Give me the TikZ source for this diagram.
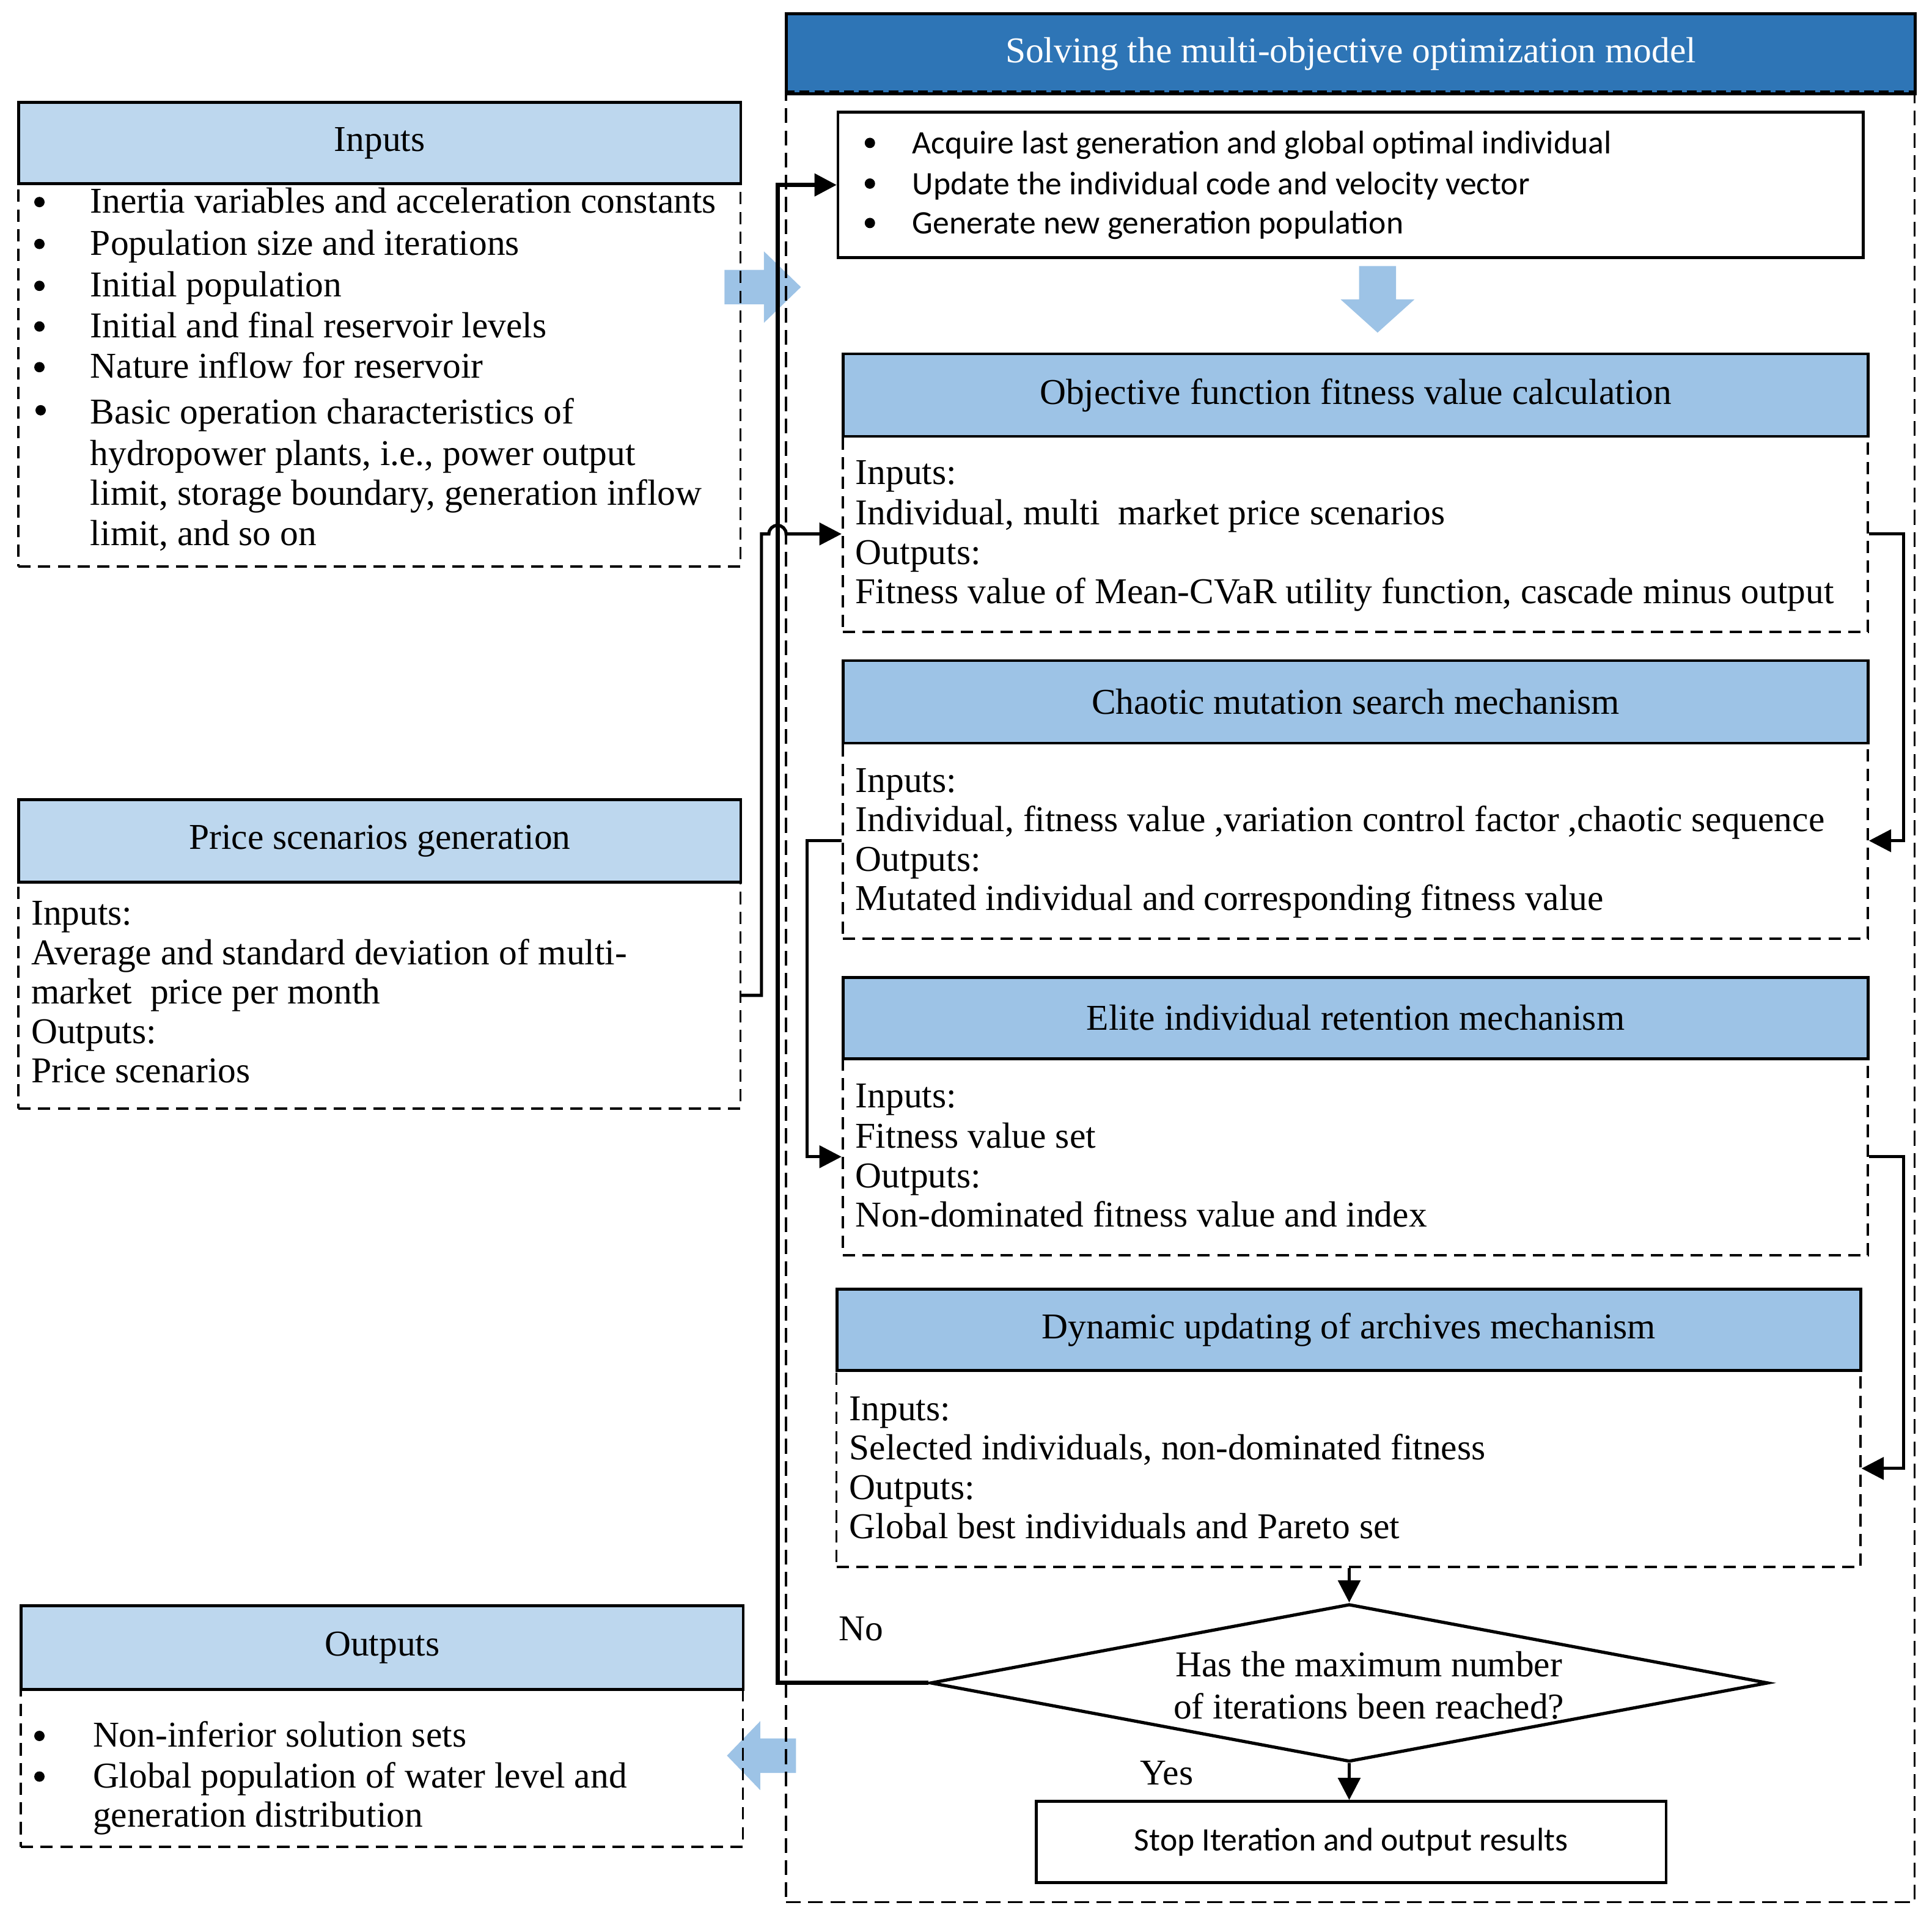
\documentclass[tikz,border=0pt]{standalone}
\usepackage{fontspec}
\setmainfont{Liberation Serif}
\newfontfamily\sansf{Carlito}
\usetikzlibrary{arrows.meta,shapes.geometric}
\definecolor{hdrdark}{RGB}{46,117,182}
\definecolor{hdrleft}{RGB}{189,215,238}
\definecolor{hdrright}{RGB}{157,195,230}
\definecolor{fatblue}{RGB}{157,195,230}
\newcommand\fsz{\fontsize{14.75}{17}\selectfont}
\newcommand\sfsz{\fontsize{13.3}{16}\selectfont}
\newcommand\txtline[3]{\node[txt] (#1) at #2 {#3};}
\newcommand\bul[2]{\node[bulnode] (#1) at #2 {};}
\begin{document}
\begin{tikzpicture}[x=0.5pt,y=-0.5pt,
  hdr/.style={draw=black, line width=1.2pt, anchor=north west, inner sep=0pt, font=\fsz},
  bodybox/.style={draw=black, line width=0.9pt, dash pattern=on 5pt off 3pt, anchor=north west, inner sep=0pt},
  solidbox/.style={draw=black, line width=1.1pt, anchor=north west, inner sep=0pt},
  txt/.style={anchor=west, inner sep=0pt, text height=1.5ex, text depth=.25ex, yshift=-1.6pt, font=\fsz},
  stxt/.style={txt, font=\sansf\sfsz},
  bulnode/.style={circle, fill=black, inner sep=0pt, minimum size=4.2pt},
  conn/.style={line width=1.3pt, -{Triangle[length=9pt,width=9pt]}},
  fat/.style={fill=fatblue, draw=none}]
\useasboundingbox (0,0) rectangle (1568,1560);
% fat arrows (behind)
\fill[fatblue] (588,219) -- (620,219) -- (620,204) -- (650,233) -- (620,262) -- (620,247) -- (588,247) -- cycle;
\fill[fatblue] (1103,216) -- (1133,216) -- (1133,243) -- (1148,243) -- (1118,270) -- (1088,243) -- (1103,243) -- cycle;
\fill[fatblue] (646,1411) -- (617,1411) -- (617,1397) -- (590,1425) -- (617,1453) -- (617,1439) -- (646,1439) -- cycle;
% main container
\node[bodybox, dash pattern=on 6pt off 3pt, minimum width=458pt, minimum height=734pt] (outer) at (637,75) {};
\node[hdr, fill=hdrdark, text=white, minimum width=458pt, minimum height=32.5pt] (mainH) at (637,10) {Solving the multi-objective optimization model};
\draw[line width=1pt, dash pattern=on 4pt off 2pt] (mainH.south west) ++(0,-3) -- ([yshift=1.5pt]mainH.south east);
% left boxes
\node[bodybox, minimum width=293pt, minimum height=155.5pt] (inpB) at (14,148) {};
\node[hdr, fill=hdrleft, minimum width=293pt, minimum height=33pt] (inpH) at (14,82) {Inputs};
\bul{ib1}{(32,164)}\bul{ib2}{(32,198)}\bul{ib3}{(32,232)}\bul{ib4}{(32,265)}\bul{ib5}{(32,298)}\bul{ib6}{(33,333)}
\txtline{it1}{(73,164)}{Inertia variables and acceleration constants}
\txtline{it2}{(73,198)}{Population size and iterations}
\txtline{it3}{(73,232)}{Initial population}
\txtline{it4}{(73,265)}{Initial and final reservoir levels}
\txtline{it5}{(73,298)}{Nature inflow for reservoir}
\txtline{it6}{(73,335)}{Basic operation characteristics of}
\txtline{it7}{(73,369)}{hydropower plants, i.e., power output}
\txtline{it8}{(73,401)}{limit, storage boundary, generation inflow}
\txtline{it9}{(73,434)}{limit, and so on}

\node[bodybox, minimum width=293pt, minimum height=92pt] (priB) at (14,715) {};
\node[hdr, fill=hdrleft, minimum width=293pt, minimum height=33.5pt] (priH) at (14,648) {Price scenarios generation};
\txtline{pt1}{(25,742)}{Inputs:}
\txtline{pt2}{(25,774)}{Average and standard deviation of multi-}
\txtline{pt3}{(25,806)}{market\ \ price per month}
\txtline{pt4}{(25,838)}{Outputs:}
\txtline{pt5}{(25,870)}{Price scenarios}

\node[bodybox, minimum width=293pt, minimum height=64pt] (outB) at (16,1370) {};
\node[hdr, fill=hdrleft, minimum width=293pt, minimum height=34pt] (outH) at (16,1302) {Outputs};
\bul{ob1}{(32,1409)}\bul{ob2}{(32,1442)}
\txtline{ot1}{(75,1409)}{Non-inferior solution sets}
\txtline{ot2}{(75,1442)}{Global population of water level and}
\txtline{ot3}{(75,1474)}{generation distribution}

% right column
\node[solidbox, minimum width=416pt, minimum height=59pt] (gen) at (679,90) {};
\bul{gb1}{(706,116)}\bul{gb2}{(706,149)}\bul{gb3}{(706,181)}
\node[stxt] (gt1) at (740,116) {Acquire last generation and global optimal individual};
\node[stxt] (gt2) at (740,149) {Update the individual code and velocity vector};
\node[stxt] (gt3) at (740,181) {Generate new generation population};

\node[bodybox, minimum width=416pt, minimum height=79.5pt] (objB) at (683,353) {};
\node[hdr, fill=hdrright, minimum width=416pt, minimum height=33.5pt] (objH) at (683,286) {Objective function fitness value calculation};
\txtline{ft1}{(694,384)}{Inputs:}
\txtline{ft2}{(694,417)}{Individual, multi\ \ market price scenarios}
\txtline{ft3}{(694,449)}{Outputs:}
\txtline{ft4}{(694,481)}{Fitness value of Mean-CVaR utility function, cascade minus output}

\node[bodybox, minimum width=416pt, minimum height=79.5pt] (chaB) at (683,602) {};
\node[hdr, fill=hdrright, minimum width=416pt, minimum height=33.5pt] (chaH) at (683,535) {Chaotic mutation search mechanism};
\txtline{ct1}{(694,634)}{Inputs:}
\txtline{ct2}{(694,666)}{Individual, fitness value ,variation control factor ,chaotic sequence}
\txtline{ct3}{(694,698)}{Outputs:}
\txtline{ct4}{(694,730)}{Mutated individual and corresponding fitness value}

\node[bodybox, minimum width=416pt, minimum height=80pt] (eliB) at (683,858) {};
\node[hdr, fill=hdrright, minimum width=416pt, minimum height=33pt] (eliH) at (683,792) {Elite individual retention mechanism};
\txtline{et1}{(694,890)}{Inputs:}
\txtline{et2}{(694,923)}{Fitness value set}
\txtline{et3}{(694,955)}{Outputs:}
\txtline{et4}{(694,987)}{Non-dominated fitness value and index}

\node[bodybox, minimum width=415.5pt, minimum height=80pt] (dynB) at (678,1111) {};
\node[hdr, fill=hdrright, minimum width=415.5pt, minimum height=33pt] (dynH) at (678,1045) {Dynamic updating of archives mechanism};
\txtline{dt1}{(689,1144)}{Inputs:}
\txtline{dt2}{(689,1176)}{Selected individuals, non-dominated fitness}
\txtline{dt3}{(689,1208)}{Outputs:}
\txtline{dt4}{(689,1240)}{Global best individuals and Pareto set}

\node[diamond, draw=black, line width=1.3pt, minimum width=340pt, minimum height=64pt, inner sep=0pt] (dec) at (1095,1366) {};
\node[align=center, inner sep=0pt, font=\fsz] (decT) at (1111,1368) {Has the maximum number\\of iterations been reached?};
\node[solidbox, minimum width=255.5pt, minimum height=33pt, font=\sansf\sfsz] (stop) at (840,1461) {Stop Iteration and output results};
\node[font=\fsz, inner sep=0pt] (no) at (699,1322) {No};
\node[font=\fsz, inner sep=0pt] (yes) at (947,1439) {Yes};

% connectors
\coordinate (loopx) at (631,0);
\coordinate (pricex) at (618,0);
\draw[conn, line width=1.7pt] (dec.west) -| (loopx |- gen.west) -- (gen.west);
\draw[conn] (priB.east) -- (pricex |- priB.east) -- (pricex |- objB.west) -- ([xshift=-3.5pt]loopx |- objB.west) arc (180:0:3.5pt) -- (objB.west);
\draw[conn] (objB.east) -- ++(28,0) |- (chaB.east);
\draw[conn] (chaB.west) -- ++(-28,0) |- (eliB.west);
\draw[conn] (eliB.east) -- ++(28,0) |- (dynB.east);
\draw[conn] (dynB.south -| dec.north) -- (dec.north);
\draw[conn] (dec.south) -- (dec.south |- stop.north);
\end{tikzpicture}
\end{document}
